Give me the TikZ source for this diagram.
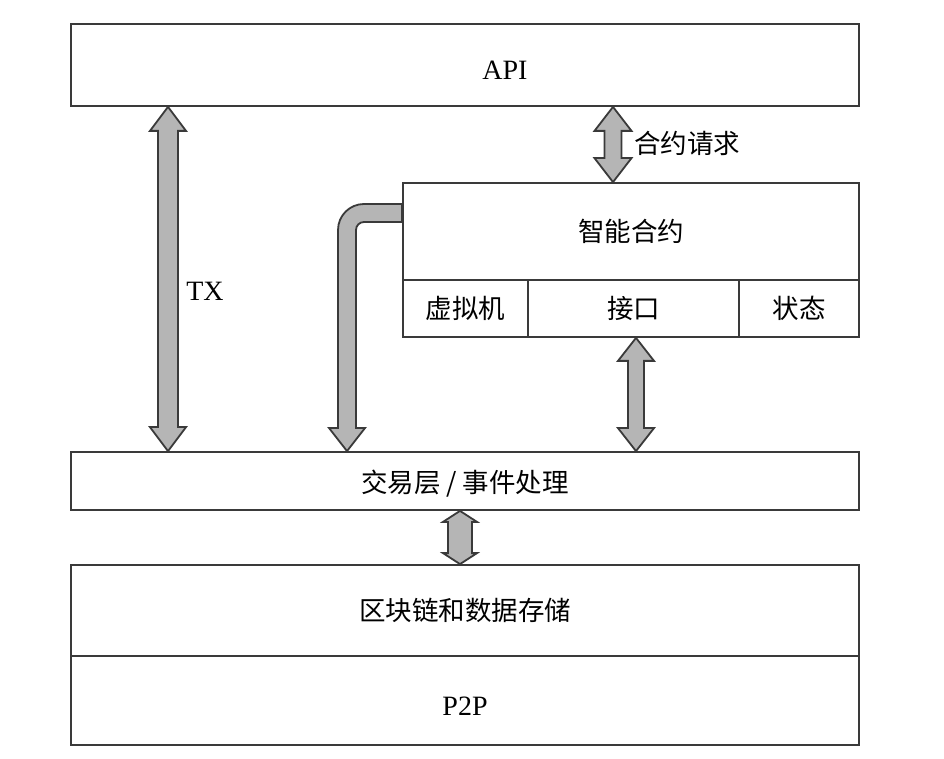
\documentclass[tikz,border=0pt]{standalone}
\usepackage{fontspec}
\setmainfont{Liberation Serif}
\newfontfamily\cjk{Noto Sans CJK SC}
\usetikzlibrary{calc}
\definecolor{edge}{HTML}{3A3A3A}
\definecolor{arrowfill}{HTML}{B5B5B5}
\tikzset{
  layer/.style={draw=edge, line width=1.8pt, fill=white, inner sep=0pt, anchor=center,
    font=\fontsize{26.5}{30}\selectfont\cjk},
  latin/.style={font=\rmfamily\fontsize{28}{32}\selectfont},
  fat/.style={draw=edge, fill=arrowfill, line width=1.8pt, line join=miter},
  lbl/.style={inner sep=0pt, font=\fontsize{26.5}{30}\selectfont\cjk},
}
\newcommand\fatdbl[5]{%
  \draw[fat] (#1) -- ++(#4,-#5) -- ++({-(#4-#3)},0) -- ($(#2)+(#3,#5)$) -- ++({#4-#3},0)
    -- (#2) -- ++(-#4,#5) -- ++({#4-#3},0) -- ($(#1)+(-#3,-#5)$) -- ++({-(#4-#3)},0) -- cycle;}
\begin{document}
\begin{tikzpicture}[x=1pt,y=1pt]
\useasboundingbox[fill=white] (0,0) rectangle (944,758);
% boxes
\node[layer, minimum width=788, minimum height=82] (api) at (465,693) {};
\node[layer, minimum width=456, minimum height=97] (sc) at (631,526.5) {智能合约};
\node[layer, minimum width=125, minimum height=57] (vm) at (465.5,449.5) {虚拟机};
\node[layer, minimum width=211, minimum height=57] (if) at (633.5,449.5) {接口};
\node[layer, minimum width=120, minimum height=57] (st) at (799,449.5) {状态};
\node[layer, minimum width=788, minimum height=58] (tl) at (465,277) {};
\node[layer, minimum width=788, minimum height=91] (bc) at (465,147.5) {区块链和数据存储};
\node[layer, minimum width=788, minimum height=89] (pp) at (465,57.5) {};
% texts
\node[latin, inner sep=0pt] (apit) at (505,688) {API};
\node[latin, inner sep=0pt] (ppt) at (465,52) {P2P};
\node[lbl] (tlt) at (465,274) {交易层 / 事件处理};
\node[lbl, anchor=west] (req) at (634,615) {合约请求};
\node[latin, inner sep=0pt] (txl) at (205,467) {TX};
% arrow anchor coordinates
\coordinate (txT) at (api.south -| 168,0);
\coordinate (txB) at (tl.north -| 168,0);
\coordinate (rqT) at (api.south -| 613,0);
\coordinate (rqB) at (sc.north -| 613,0);
\coordinate (ifT) at (if.south -| 636,0);
\coordinate (ifB) at (tl.north -| 636,0);
\coordinate (bcT) at (tl.south -| 460,0);
\coordinate (bcB) at (bc.north -| 460,0);
% arrows
\fatdbl{txT}{txB}{10}{18}{24}
\fatdbl{rqT}{rqB}{8.5}{18.5}{24}
\fatdbl{ifT}{ifB}{8}{18}{23}
\fatdbl{bcT}{bcB}{12}{17}{11}
% bent arrow from smart contract to transaction layer
\coordinate (bs) at (sc.west |- 0,554);
\coordinate (bt) at (tl.north -| 347,0);
\draw[fat] (bs) -- (364,554) arc[start angle=90, end angle=180, radius=26]
  -- (338,330) -- (329,330) -- (bt) -- (365,330) -- (356,330) -- (356,528)
  arc[start angle=180, end angle=90, radius=8] -- (sc.west |- 0,536) -- cycle;
\end{tikzpicture}
\end{document}
